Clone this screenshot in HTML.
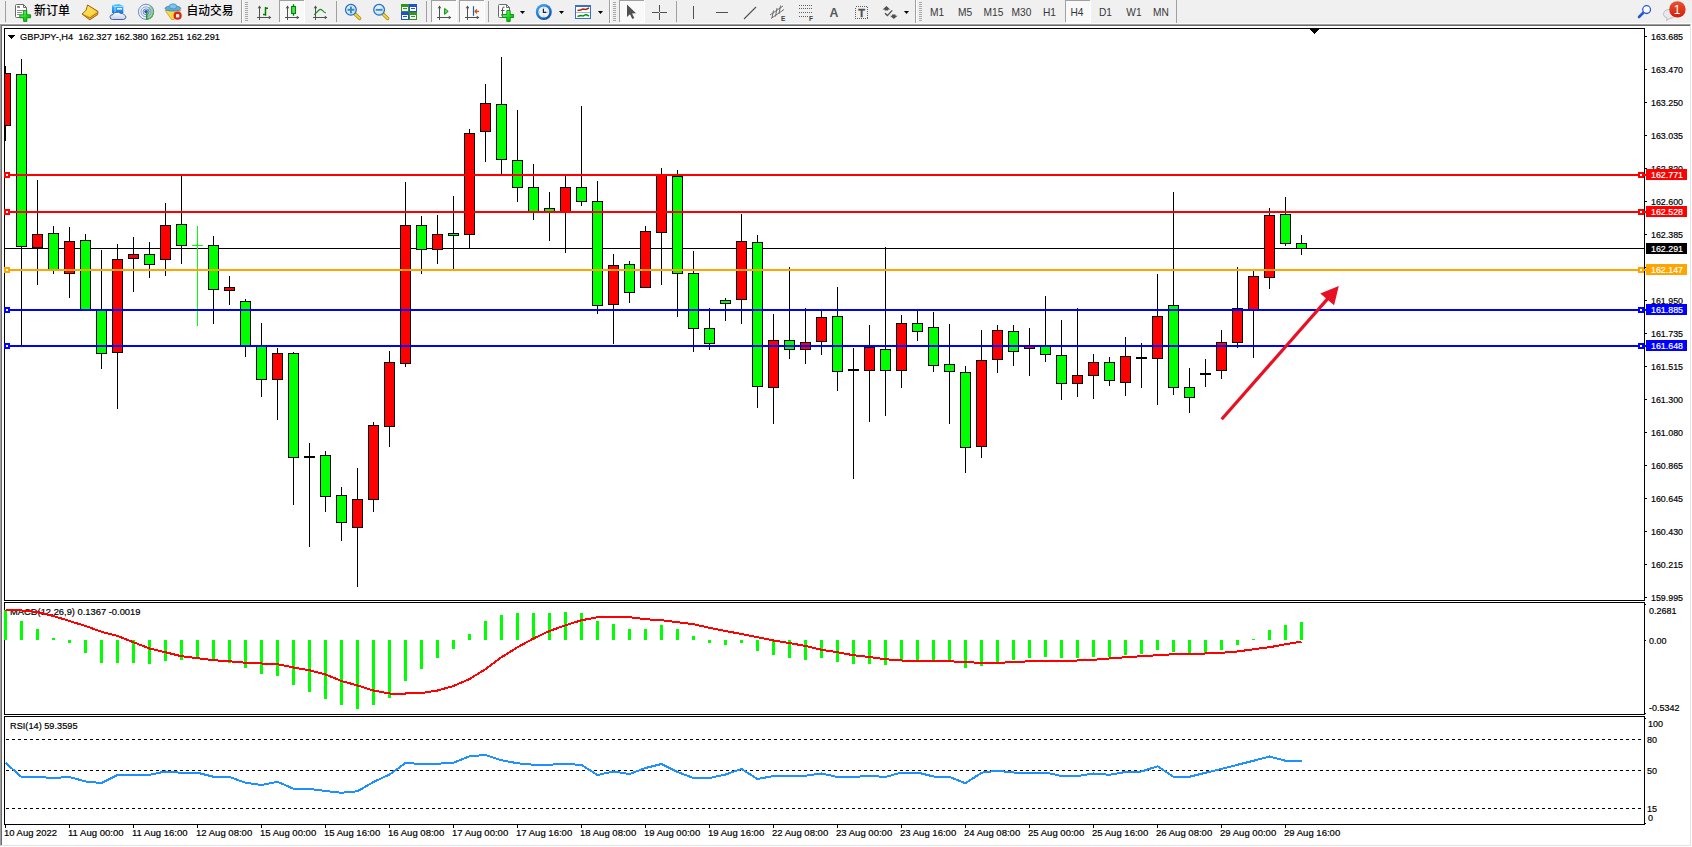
<!DOCTYPE html>
<html><head><meta charset="utf-8"><title>GBPJPY-,H4</title>
<style>
html,body{margin:0;padding:0;}
body{width:1692px;height:847px;overflow:hidden;background:#fff;position:relative;font-family:"Liberation Sans","Noto Sans CJK SC",sans-serif;}
#tb{position:absolute;left:0;top:0;width:1692px;height:24px;background:#f0f0f0;}
#frame{position:absolute;left:0;top:24px;width:1689px;height:820px;border-top:1px solid #a0a0a0;border-left:1px solid #a0a0a0;border-right:1px solid #e3e3e3;border-bottom:1px solid #e3e3e3;box-sizing:content-box;}
#frame2{position:absolute;left:1px;top:25px;width:1688px;height:819px;border-top:1px solid #696969;border-left:1px solid #696969;box-sizing:content-box;}
svg#ch{position:absolute;left:0;top:0;}
.t{position:absolute;white-space:pre;line-height:11px;height:11px;color:#000;transform-origin:0 50%;}
.ax{font-size:9px;-webkit-text-stroke:0.18px currentColor;}
.wh{color:#fff;}
#tb svg{position:absolute;left:0;top:0;}
#tb text{font-family:"Liberation Sans","Noto Sans CJK SC",sans-serif;}

</style></head><body>
<div id="tb"><svg width="1692" height="24" viewBox="0 0 1692 24">
<defs>
<linearGradient id="gp" x1="0" y1="0" x2="1" y2="1"><stop offset="0" stop-color="#9dff9d"/><stop offset="0.5" stop-color="#20e020"/><stop offset="1" stop-color="#00a800"/></linearGradient>
<linearGradient id="gold" x1="0" y1="0" x2="1" y2="1"><stop offset="0" stop-color="#fff080"/><stop offset="1" stop-color="#e0a010"/></linearGradient>
<linearGradient id="blu" x1="0" y1="0" x2="0" y2="1"><stop offset="0" stop-color="#4fc3ff"/><stop offset="1" stop-color="#0a7be8"/></linearGradient>
<linearGradient id="cl" x1="0" y1="0" x2="0" y2="1"><stop offset="0" stop-color="#ffffff"/><stop offset="1" stop-color="#c4d0e6"/></linearGradient>
<linearGradient id="clk" x1="0.2" y1="0" x2="0.8" y2="1"><stop offset="0" stop-color="#3aa8f8"/><stop offset="1" stop-color="#0848a8"/></linearGradient>
<linearGradient id="bdg" x1="0" y1="0" x2="0" y2="1"><stop offset="0" stop-color="#e85434"/><stop offset="1" stop-color="#d41c08"/></linearGradient>
<radialGradient id="lens" cx="0.4" cy="0.4" r="0.7"><stop offset="0" stop-color="#f4fbff"/><stop offset="1" stop-color="#a8d8f8"/></radialGradient>
<g id="axes" fill="none" stroke="#505050" stroke-width="1" shape-rendering="crispEdges">
  <path d="M2.5 1 V15 M0 12.5 H14"/>
</g>
<g id="axar" fill="#505050"><path d="M2.5 0.6 L0.7 3.2 H4.3 Z M14.4 12.5 L11.8 10.7 V14.3 Z"/></g>
<path id="dd" d="M0 0 H5 L2.5 3 Z" fill="#000"/>
<g id="grip" fill="#a8a8a8" shape-rendering="crispEdges">
 <rect x="0" y="2" width="3" height="1"/><rect x="0" y="4" width="3" height="1"/><rect x="0" y="6" width="3" height="1"/><rect x="0" y="8" width="3" height="1"/><rect x="0" y="10" width="3" height="1"/><rect x="0" y="12" width="3" height="1"/><rect x="0" y="14" width="3" height="1"/><rect x="0" y="16" width="3" height="1"/><rect x="0" y="18" width="3" height="1"/><rect x="0" y="20" width="3" height="1"/>
</g>
</defs>
<rect x="0" y="23" width="1692" height="1" fill="#fbfbfb"/>
<!-- leading separator -->
<rect x="5" y="1" width="1" height="21" fill="#a0a0a0" shape-rendering="crispEdges"/>
<!-- new order icon -->
<g>
<path d="M15.5 5.5 Q15.5 4.5 16.5 4.5 H23.5 L26.5 7.5 V16.5 Q26.5 17.5 25.5 17.5 H16.5 Q15.5 17.5 15.5 16.5 Z" fill="#fff" stroke="#6a6a6a" stroke-width="1"/>
<path d="M23.5 4.5 V7.5 H26.5" fill="none" stroke="#6a6a6a" stroke-width="1"/>
<rect x="17" y="6" width="3" height="2" fill="#909090"/><rect x="17" y="10" width="7" height="1" fill="#909090"/><rect x="17" y="12" width="5" height="1" fill="#909090"/><rect x="17" y="14" width="3" height="1" fill="#909090"/>
<path d="M23.6 10.6 H26.8 V14.8 H30.6 V17.8 H26.8 V21.4 H23.6 V17.8 H19.8 V14.8 H23.6 Z" fill="url(#gp)" stroke="#0a8a0a" stroke-width="0.9" stroke-linejoin="round"/>
</g>
<text x="34" y="15" font-size="12" font-weight="500" fill="#000">新订单</text>
<!-- book -->
<path d="M87.6 5 L98 11.4 L97.6 14.6 L89.8 19.8 L82 14 L86 10.4 Z" fill="url(#gold)" stroke="#a06008" stroke-width="1" stroke-linejoin="round"/>
<path d="M87.8 6.4 L96.6 11.8 L89.6 16.6 L83.6 13.2 L86.8 10.6 Z" fill="#ffe24a" opacity="0.75"/>
<path d="M82.6 14.4 L89.8 18 L97.4 12.8" fill="none" stroke="#b07410" stroke-width="0.9"/>
<!-- server/cloud -->
<path d="M112 5 L119 4 L123.3 6 V13 H112 Z" fill="url(#blu)"/>
<path d="M115 6.5 V13 M112.3 5.2 L115 6.5 L123 6.3" stroke="#c8ecff" stroke-width="0.8" fill="none"/>
<rect x="117" y="8" width="5" height="1.6" fill="#e8f6ff"/>
<path d="M112.5 19.5 Q109.8 19.3 110 16.8 Q110.3 14.6 113 14.6 Q113.6 12 116.6 12.4 Q119 11.4 120.6 13.6 Q123.3 12.8 124.3 15 Q126.2 15.6 125.8 17.6 Q125.4 19.5 123.2 19.5 Z" fill="url(#cl)" stroke="#48629e" stroke-width="1"/>
<!-- signal -->
<g fill="none">
<path d="M146 11.8 L146 19.9 A8.1 8.1 0 0 0 150.6 5.1 Z" fill="#8cc88c" opacity="0.8"/>
<circle cx="146" cy="11.8" r="7.6" stroke="#6a8ad6" stroke-width="1"/>
<circle cx="146" cy="11.8" r="5" stroke="#7a98dc" stroke-width="0.9"/>
<circle cx="146" cy="11.8" r="2.9" stroke="#5a7ad0" stroke-width="0.9"/>
<path d="M146.5 19.4 A7.6 7.6 0 0 0 153.4 10" stroke="#58a858" stroke-width="1.1"/>
<circle cx="146" cy="11.6" r="1.7" fill="#2450c4"/>
<path d="M146.7 12.6 V19.6" stroke="#1ea01e" stroke-width="1.4"/>
</g>
<!-- auto trading -->
<g>
<path d="M165.2 10.5 L180.6 10.5 L174 19.5 L171.5 19.5 Z" fill="#f7d84a" stroke="#c89a18" stroke-width="0.8" stroke-linejoin="round"/>
<ellipse cx="172.9" cy="8.4" rx="7.9" ry="2.7" fill="#5aaedc" stroke="#2f80b8" stroke-width="0.7"/>
<ellipse cx="173" cy="6.4" rx="3.8" ry="2.6" fill="#7cc4ea" stroke="#2f80b8" stroke-width="0.6"/>
<circle cx="177.6" cy="15.7" r="4.1" fill="#e02810"/>
<rect x="176" y="14.2" width="3.2" height="3.2" fill="#fff"/>
</g>
<text x="186.5" y="15" font-size="12" font-weight="500" fill="#000" textLength="47" lengthAdjust="spacingAndGlyphs">自动交易</text>
<!-- sep + grip -->
<rect x="241" y="0" width="1" height="23" fill="#a0a0a0" shape-rendering="crispEdges"/><rect x="242" y="0" width="1" height="23" fill="#fff" shape-rendering="crispEdges"/>
<use href="#grip" x="245" y="0"/>

<!-- bar chart icon -->
<g transform="translate(257,5)"><use href="#axes"/><use href="#axar"/><path d="M8.5 2 V10.7 M6 9.5 H8.5 M8.5 3.3 H11" stroke="#008000" stroke-width="1.5" fill="none"/></g>
<!-- candle icon (pressed) -->
<rect x="279" y="0" width="26" height="23" fill="#f9f9f9" shape-rendering="crispEdges"/><rect x="279" y="0" width="1" height="22" fill="#a0a0a0" shape-rendering="crispEdges"/><rect x="279" y="0" width="25" height="1" fill="#a0a0a0" shape-rendering="crispEdges"/><rect x="280" y="22" width="25" height="1" fill="#fff" shape-rendering="crispEdges"/><rect x="304" y="0" width="1" height="23" fill="#fff" shape-rendering="crispEdges"/>
<g transform="translate(285,5)"><use href="#axes"/><use href="#axar"/><path d="M8.5 -0.8 V10.8" stroke="#008000" stroke-width="1.3"/><rect x="6.6" y="1.5" width="3.9" height="7" fill="#50e050" stroke="#008800" stroke-width="1.1"/></g>
<!-- line chart icon -->
<g transform="translate(313,5)"><use href="#axes"/><use href="#axar"/><path d="M1.2 9.8 Q4.5 6.5 6 5 Q7.5 3.8 9 5.2 Q11 7.2 12.8 8" stroke="#1a8a1a" stroke-width="1.2" fill="none"/></g>
<rect x="336" y="1" width="1" height="21" fill="#a0a0a0" shape-rendering="crispEdges"/>
<!-- zoom in -->
<g transform="translate(345,3)"><path d="M9.8 10.8 L14.7 15.4" stroke="#b88a10" stroke-width="3.4" stroke-linecap="round"/><path d="M9.8 10.8 L14.7 15.4" stroke="#f0d840" stroke-width="1.8" stroke-linecap="round"/><circle cx="5.9" cy="6.8" r="5.4" fill="url(#lens)" stroke="#2a6ac0" stroke-width="1.2"/><path d="M2.5 6.8 H9.3 M5.9 3.4 V10.2" stroke="#3a88b8" stroke-width="1.9"/></g>
<!-- zoom out -->
<g transform="translate(373,3)"><path d="M9.8 10.8 L14.7 15.4" stroke="#b88a10" stroke-width="3.4" stroke-linecap="round"/><path d="M9.8 10.8 L14.7 15.4" stroke="#f0d840" stroke-width="1.8" stroke-linecap="round"/><circle cx="6.1" cy="6.8" r="5.4" fill="url(#lens)" stroke="#2a6ac0" stroke-width="1.2"/><path d="M2.7 6.8 H9.5" stroke="#3a88b8" stroke-width="1.9"/></g>
<!-- grid -->
<g transform="translate(401,4)" shape-rendering="crispEdges">
<rect x="0" y="0" width="8" height="8" fill="#2a9a18"/><rect x="8" y="0" width="8" height="8" fill="#2450d0"/><rect x="0" y="8" width="8" height="8" fill="#2450d0"/><rect x="8" y="8" width="8" height="8" fill="#2a9a18"/>
<rect x="1" y="3" width="6" height="4" fill="#fff"/><rect x="9" y="3" width="6" height="4" fill="#fff"/><rect x="1" y="11" width="6" height="4" fill="#fff"/><rect x="9" y="11" width="6" height="4" fill="#fff"/>
<rect x="2" y="4" width="4" height="1" fill="#2a9a18"/><rect x="10" y="4" width="4" height="1" fill="#2450d0"/><rect x="2" y="12" width="4" height="1" fill="#2450d0"/><rect x="10" y="12" width="4" height="1" fill="#2a9a18"/>
</g>
<rect x="426" y="1" width="1" height="21" fill="#a0a0a0" shape-rendering="crispEdges"/>
<!-- autoscroll (pressed) -->
<rect x="431" y="0" width="26" height="23" fill="#f9f9f9" shape-rendering="crispEdges"/><rect x="431" y="0" width="1" height="22" fill="#a0a0a0" shape-rendering="crispEdges"/><rect x="431" y="0" width="25" height="1" fill="#a0a0a0" shape-rendering="crispEdges"/><rect x="432" y="22" width="25" height="1" fill="#fff" shape-rendering="crispEdges"/><rect x="456" y="0" width="1" height="23" fill="#fff" shape-rendering="crispEdges"/>
<g transform="translate(437,5)"><use href="#axes"/><use href="#axar"/><path d="M7.6 3.4 L11.2 6.4 L7.6 9.4 Z" fill="#60dc60" stroke="#109010" stroke-width="1"/></g>
<!-- chart shift (pressed) -->
<rect x="459" y="0" width="26" height="23" fill="#f9f9f9" shape-rendering="crispEdges"/><rect x="459" y="0" width="1" height="22" fill="#a0a0a0" shape-rendering="crispEdges"/><rect x="459" y="0" width="25" height="1" fill="#a0a0a0" shape-rendering="crispEdges"/><rect x="460" y="22" width="25" height="1" fill="#fff" shape-rendering="crispEdges"/><rect x="484" y="0" width="1" height="23" fill="#fff" shape-rendering="crispEdges"/>
<g transform="translate(465,5)"><use href="#axes"/><use href="#axar"/><path d="M8.5 1.2 V10.8" stroke="#1868a8" stroke-width="1.2"/><path d="M9.6 6.4 H14 M9.8 6.4 L12 4.4 M9.8 6.4 L12 8.4" stroke="#d84808" stroke-width="1.2" fill="none"/></g>
<rect x="488" y="1" width="1" height="21" fill="#a0a0a0" shape-rendering="crispEdges"/>
<!-- indicators -->
<g>
<path d="M498.5 5.5 Q498.5 4.5 499.5 4.5 H506.5 L509.5 7.5 V16.5 Q509.5 17.5 508.5 17.5 H499.5 Q498.5 17.5 498.5 16.5 Z" fill="#fff" stroke="#6a6a6a" stroke-width="1"/>
<path d="M506.5 4.5 V7.5 H509.5" fill="none" stroke="#6a6a6a" stroke-width="1"/>
<path d="M504.5 7 Q502.5 6.5 502.5 9 V14 Q502.5 15.5 501 15 M501 10.5 H504.5" stroke="#555" stroke-width="1" fill="none"/>
<path d="M506.8 10.5 H510.2 V14.5 H513.6 V17.5 H510.2 V21.4 H506.8 V17.5 H502.6 V14.5 H506.8 Z" fill="url(#gp)" stroke="#0a8a0a" stroke-width="0.9" stroke-linejoin="round"/>
</g>
<use href="#dd" x="520" y="11"/>
<!-- clock -->
<g><circle cx="543.8" cy="12" r="8" fill="url(#clk)"/><circle cx="543.8" cy="12" r="5.5" fill="#eef2f8"/><path d="M543.8 7.4 V8.4 M543.8 15.6 V16.6 M539.2 12 H540.2 M547.4 12 H548.4" stroke="#8090a8" stroke-width="0.8"/><path d="M543.4 8.8 V12.3 H546.4" stroke="#222" stroke-width="1.2" fill="none"/></g>
<use href="#dd" x="559" y="11"/>
<!-- template -->
<g shape-rendering="crispEdges"><rect x="575.5" y="5.5" width="15" height="13" fill="#fff" stroke="#3a70c8" stroke-width="1"/><rect x="575" y="5" width="16" height="2" fill="#3a70c8"/><rect x="576" y="12" width="14" height="1" fill="#9ab8e8"/></g>
<path d="M577.5 10.5 L580.5 10 L583 9 L586 9.5 L589 8" stroke="#a82a10" stroke-width="1.5" fill="none"/>
<path d="M577.5 16.5 L580.5 15.5 L583 16 L586 14.5 L589 16" stroke="#0a960a" stroke-width="1.5" fill="none"/>
<use href="#dd" x="598" y="11"/>
<rect x="609" y="0" width="1" height="23" fill="#a0a0a0" shape-rendering="crispEdges"/><rect x="610" y="0" width="1" height="23" fill="#fff" shape-rendering="crispEdges"/>
<use href="#grip" x="613" y="0"/>
<!-- cursor (pressed) -->
<rect x="619" y="0" width="26" height="23" fill="#f9f9f9" shape-rendering="crispEdges"/><rect x="619" y="0" width="1" height="22" fill="#a0a0a0" shape-rendering="crispEdges"/><rect x="619" y="0" width="25" height="1" fill="#a0a0a0" shape-rendering="crispEdges"/><rect x="620" y="22" width="25" height="1" fill="#fff" shape-rendering="crispEdges"/><rect x="644" y="0" width="1" height="23" fill="#fff" shape-rendering="crispEdges"/>
<path d="M627 4.5 V17 L630 14.2 L632.3 19 L634.3 18 L632 13.5 L636 13.2 Z" fill="#505050"/>
<!-- crosshair -->
<path d="M659.5 5 V20 M652 12.5 H667" stroke="#505050" stroke-width="1" shape-rendering="crispEdges"/>
<rect x="659" y="12" width="1" height="1" fill="#f0f0f0"/>
<rect x="676" y="1" width="1" height="21" fill="#a0a0a0" shape-rendering="crispEdges"/>
<!-- vline -->
<rect x="693" y="6" width="1" height="13" fill="#505050" shape-rendering="crispEdges"/>
<!-- hline -->
<rect x="716" y="12" width="12" height="1" fill="#505050" shape-rendering="crispEdges"/>
<!-- trendline -->
<path d="M744 19 L756 7" stroke="#505050" stroke-width="1.1"/>
<!-- channel -->
<g stroke="#606060" stroke-width="0.9" fill="none"><path d="M770 15 L783 6 M771 18.5 L784 9.5 M773.5 10.5 L772 18 M777 8 L775.5 16.5 M780.5 5.5 L779 14"/></g>
<text x="781" y="21" font-size="6.5" font-weight="bold" fill="#404040">E</text>
<!-- fibo -->
<g stroke="#606060" stroke-width="1" stroke-dasharray="1 1" shape-rendering="crispEdges"><path d="M799 5.5 H813 M799 8.5 H813 M799 12.5 H813 M799 16.5 H808"/></g>
<text x="809" y="21" font-size="6.5" font-weight="bold" fill="#404040">F</text>
<!-- A -->
<text x="829.6" y="17" font-size="12.3" font-weight="bold" fill="#585858">A</text>
<!-- text label -->
<rect x="855.5" y="6.5" width="12" height="12" fill="none" stroke="#606060" stroke-width="1" stroke-dasharray="1 1" shape-rendering="crispEdges"/>
<text x="858.2" y="16.8" font-size="11" font-weight="bold" fill="#505050" stroke="#505050" stroke-width="0.3">T</text>
<!-- arrows -->
<g fill="#505050"><path d="M886.4 6 L890.2 9.4 H888.2 V10.6 H884.6 V9.4 H882.6 Z"/><path d="M893.8 19.1 L890 15.7 H892 V14.4 H895.6 V15.7 H897.6 Z"/><path d="M885 13.2 L887.4 15.6 L892.2 10.4" fill="none" stroke="#505050" stroke-width="1.4"/></g>
<use href="#dd" x="904" y="11"/>
<rect x="915" y="0" width="1" height="23" fill="#a0a0a0" shape-rendering="crispEdges"/><rect x="916" y="0" width="1" height="23" fill="#fff" shape-rendering="crispEdges"/>
<use href="#grip" x="919" y="0"/>
<!-- periods -->
<rect x="1065" y="0" width="26" height="23" fill="#f9f9f9" shape-rendering="crispEdges"/><rect x="1065" y="0" width="1" height="22" fill="#a0a0a0" shape-rendering="crispEdges"/><rect x="1065" y="0" width="25" height="1" fill="#a0a0a0" shape-rendering="crispEdges"/><rect x="1066" y="22" width="25" height="1" fill="#fff" shape-rendering="crispEdges"/><rect x="1090" y="0" width="1" height="23" fill="#fff" shape-rendering="crispEdges"/>
<g font-size="10.2" fill="#383838" text-anchor="middle">
<text x="937" y="16">M1</text><text x="965" y="16">M5</text><text x="993.5" y="16">M15</text><text x="1021.5" y="16">M30</text><text x="1049.5" y="16">H1</text><text x="1077" y="16">H4</text><text x="1105.5" y="16">D1</text><text x="1134" y="16">W1</text><text x="1161" y="16">MN</text>
</g>
<rect x="1176" y="0" width="1" height="23" fill="#a0a0a0" shape-rendering="crispEdges"/>
<!-- search + chat -->
<g><path d="M1643 13 L1639 17" stroke="#2858d0" stroke-width="2.6" stroke-linecap="round"/><circle cx="1646.6" cy="9.6" r="3.9" fill="#f8faff" stroke="#2858d0" stroke-width="1.3"/></g>
<g><path d="M1663.5 14.5 Q1663.5 9.5 1669.5 9.5 Q1675.5 9.5 1675.5 14 Q1675.5 18 1670 18.2 L1666.6 20.6 L1667 17.8 Q1663.5 17 1663.5 14.5 Z" fill="#e8e8f0" stroke="#b8b8b8" stroke-width="0.9"/>
<circle cx="1677.4" cy="9.4" r="8.2" fill="url(#bdg)"/><text x="1677" y="13.6" font-size="12" fill="#fff" text-anchor="middle">1</text></g>
</svg>
</div>
<div id="frame"></div><div id="frame2"></div>
<div class="t ax" style="left:1650.5px;top:31.5px;transform:scale(0.985,1.085);">163.685</div>
<div class="t ax" style="left:1650.5px;top:64.5px;transform:scale(0.985,1.085);">163.470</div>
<div class="t ax" style="left:1650.5px;top:97.5px;transform:scale(0.985,1.085);">163.250</div>
<div class="t ax" style="left:1650.5px;top:130.5px;transform:scale(0.985,1.085);">163.035</div>
<div class="t ax" style="left:1650.5px;top:163.5px;transform:scale(0.985,1.085);">162.820</div>
<div class="t ax" style="left:1650.5px;top:196.5px;transform:scale(0.985,1.085);">162.600</div>
<div class="t ax" style="left:1650.5px;top:229.5px;transform:scale(0.985,1.085);">162.385</div>
<div class="t ax" style="left:1650.5px;top:295.5px;transform:scale(0.985,1.085);">161.950</div>
<div class="t ax" style="left:1650.5px;top:328.5px;transform:scale(0.985,1.085);">161.735</div>
<div class="t ax" style="left:1650.5px;top:361.5px;transform:scale(0.985,1.085);">161.515</div>
<div class="t ax" style="left:1650.5px;top:394.5px;transform:scale(0.985,1.085);">161.300</div>
<div class="t ax" style="left:1650.5px;top:427.5px;transform:scale(0.985,1.085);">161.080</div>
<div class="t ax" style="left:1650.5px;top:460.5px;transform:scale(0.985,1.085);">160.865</div>
<div class="t ax" style="left:1650.5px;top:493.5px;transform:scale(0.985,1.085);">160.645</div>
<div class="t ax" style="left:1650.5px;top:526.5px;transform:scale(0.985,1.085);">160.430</div>
<div class="t ax" style="left:1650.5px;top:559.5px;transform:scale(0.985,1.085);">160.215</div>
<div class="t ax" style="left:1650.5px;top:592.5px;transform:scale(0.985,1.085);">159.995</div>
<div class="t ax" style="left:9.6px;top:606.8px;transform:scale(1.039,1.085);">MACD(12,26,9) 0.1367 -0.0019</div>
<div class="t ax" style="left:9.6px;top:720.8px;transform:scale(1.022,1.085);">RSI(14) 59.3595</div>
<svg id="ch" width="1692" height="847" viewBox="0 0 1692 847" shape-rendering="crispEdges">
<defs>
<clipPath id="cm"><rect x="5" y="29" width="1639" height="571"/></clipPath>
<clipPath id="cmacd"><rect x="5" y="603" width="1639" height="111"/></clipPath>
<clipPath id="crsi"><rect x="5" y="717" width="1639" height="107"/></clipPath>
</defs>
<rect x="4.5" y="28.5" width="1640" height="572" fill="none" stroke="#000" stroke-width="1"/>
<rect x="4.5" y="602.5" width="1640" height="112" fill="none" stroke="#000" stroke-width="1"/>
<rect x="4.5" y="716.5" width="1640" height="108" fill="none" stroke="#000" stroke-width="1"/>
<rect x="5" y="248" width="1640" height="1" fill="#000"/>
<g clip-path="url(#cm)">
<rect x="5" y="66" width="1" height="75" fill="#000"/>
<rect x="0" y="73" width="11" height="53" fill="#000"/>
<rect x="1" y="74" width="9" height="51" fill="#f00"/>
<rect x="21" y="59" width="1" height="287" fill="#000"/>
<rect x="16" y="74" width="11" height="173" fill="#000"/>
<rect x="17" y="75" width="9" height="171" fill="#0f0"/>
<rect x="37" y="180" width="1" height="105" fill="#000"/>
<rect x="32" y="234" width="11" height="14" fill="#000"/>
<rect x="33" y="235" width="9" height="12" fill="#f00"/>
<rect x="53" y="226" width="1" height="48" fill="#000"/>
<rect x="48" y="233" width="11" height="38" fill="#000"/>
<rect x="49" y="234" width="9" height="36" fill="#0f0"/>
<rect x="69" y="227" width="1" height="71" fill="#000"/>
<rect x="64" y="241" width="11" height="33" fill="#000"/>
<rect x="65" y="242" width="9" height="31" fill="#f00"/>
<rect x="85" y="234" width="1" height="77" fill="#000"/>
<rect x="80" y="240" width="11" height="70" fill="#000"/>
<rect x="81" y="241" width="9" height="68" fill="#0f0"/>
<rect x="101" y="250" width="1" height="119" fill="#000"/>
<rect x="96" y="310" width="11" height="44" fill="#000"/>
<rect x="97" y="311" width="9" height="42" fill="#0f0"/>
<rect x="117" y="244" width="1" height="165" fill="#000"/>
<rect x="112" y="259" width="11" height="94" fill="#000"/>
<rect x="113" y="260" width="9" height="92" fill="#f00"/>
<rect x="133" y="237" width="1" height="55" fill="#000"/>
<rect x="128" y="254" width="11" height="5" fill="#000"/>
<rect x="129" y="255" width="9" height="3" fill="#f00"/>
<rect x="149" y="242" width="1" height="36" fill="#000"/>
<rect x="144" y="254" width="11" height="11" fill="#000"/>
<rect x="145" y="255" width="9" height="9" fill="#0f0"/>
<rect x="165" y="203" width="1" height="73" fill="#000"/>
<rect x="160" y="225" width="11" height="35" fill="#000"/>
<rect x="161" y="226" width="9" height="33" fill="#f00"/>
<rect x="181" y="176" width="1" height="88" fill="#000"/>
<rect x="176" y="224" width="11" height="22" fill="#000"/>
<rect x="177" y="225" width="9" height="20" fill="#0f0"/>
<rect x="213" y="236" width="1" height="88" fill="#000"/>
<rect x="208" y="245" width="11" height="45" fill="#000"/>
<rect x="209" y="246" width="9" height="43" fill="#0f0"/>
<rect x="229" y="276" width="1" height="29" fill="#000"/>
<rect x="224" y="287" width="11" height="4" fill="#000"/>
<rect x="225" y="288" width="9" height="2" fill="#f00"/>
<rect x="245" y="299" width="1" height="58" fill="#000"/>
<rect x="240" y="301" width="11" height="45" fill="#000"/>
<rect x="241" y="302" width="9" height="43" fill="#0f0"/>
<rect x="261" y="323" width="1" height="74" fill="#000"/>
<rect x="256" y="346" width="11" height="34" fill="#000"/>
<rect x="257" y="347" width="9" height="32" fill="#0f0"/>
<rect x="277" y="348" width="1" height="72" fill="#000"/>
<rect x="272" y="353" width="11" height="27" fill="#000"/>
<rect x="273" y="354" width="9" height="25" fill="#f00"/>
<rect x="293" y="352" width="1" height="153" fill="#000"/>
<rect x="288" y="353" width="11" height="105" fill="#000"/>
<rect x="289" y="354" width="9" height="103" fill="#0f0"/>
<rect x="309" y="443" width="1" height="104" fill="#000"/>
<rect x="304" y="456" width="11" height="2" fill="#000"/>
<rect x="325" y="451" width="1" height="61" fill="#000"/>
<rect x="320" y="455" width="11" height="42" fill="#000"/>
<rect x="321" y="456" width="9" height="40" fill="#0f0"/>
<rect x="341" y="487" width="1" height="54" fill="#000"/>
<rect x="336" y="495" width="11" height="28" fill="#000"/>
<rect x="337" y="496" width="9" height="26" fill="#0f0"/>
<rect x="357" y="468" width="1" height="119" fill="#000"/>
<rect x="352" y="499" width="11" height="29" fill="#000"/>
<rect x="353" y="500" width="9" height="27" fill="#f00"/>
<rect x="373" y="422" width="1" height="90" fill="#000"/>
<rect x="368" y="425" width="11" height="75" fill="#000"/>
<rect x="369" y="426" width="9" height="73" fill="#f00"/>
<rect x="389" y="351" width="1" height="96" fill="#000"/>
<rect x="384" y="362" width="11" height="65" fill="#000"/>
<rect x="385" y="363" width="9" height="63" fill="#f00"/>
<rect x="405" y="182" width="1" height="185" fill="#000"/>
<rect x="400" y="225" width="11" height="139" fill="#000"/>
<rect x="401" y="226" width="9" height="137" fill="#f00"/>
<rect x="421" y="216" width="1" height="58" fill="#000"/>
<rect x="416" y="225" width="11" height="25" fill="#000"/>
<rect x="417" y="226" width="9" height="23" fill="#0f0"/>
<rect x="437" y="215" width="1" height="49" fill="#000"/>
<rect x="432" y="234" width="11" height="16" fill="#000"/>
<rect x="433" y="235" width="9" height="14" fill="#f00"/>
<rect x="453" y="196" width="1" height="73" fill="#000"/>
<rect x="448" y="233" width="11" height="3" fill="#000"/>
<rect x="449" y="234" width="9" height="1" fill="#0f0"/>
<rect x="469" y="129" width="1" height="119" fill="#000"/>
<rect x="464" y="133" width="11" height="102" fill="#000"/>
<rect x="465" y="134" width="9" height="100" fill="#f00"/>
<rect x="485" y="84" width="1" height="78" fill="#000"/>
<rect x="480" y="103" width="11" height="29" fill="#000"/>
<rect x="481" y="104" width="9" height="27" fill="#f00"/>
<rect x="501" y="57" width="1" height="118" fill="#000"/>
<rect x="496" y="104" width="11" height="56" fill="#000"/>
<rect x="497" y="105" width="9" height="54" fill="#0f0"/>
<rect x="517" y="110" width="1" height="92" fill="#000"/>
<rect x="512" y="160" width="11" height="28" fill="#000"/>
<rect x="513" y="161" width="9" height="26" fill="#0f0"/>
<rect x="533" y="164" width="1" height="56" fill="#000"/>
<rect x="528" y="187" width="11" height="25" fill="#000"/>
<rect x="529" y="188" width="9" height="23" fill="#0f0"/>
<rect x="549" y="192" width="1" height="49" fill="#000"/>
<rect x="544" y="208" width="11" height="4" fill="#000"/>
<rect x="545" y="209" width="9" height="2" fill="#0f0"/>
<rect x="565" y="176" width="1" height="77" fill="#000"/>
<rect x="560" y="187" width="11" height="25" fill="#000"/>
<rect x="561" y="188" width="9" height="23" fill="#f00"/>
<rect x="581" y="106" width="1" height="100" fill="#000"/>
<rect x="576" y="187" width="11" height="15" fill="#000"/>
<rect x="577" y="188" width="9" height="13" fill="#0f0"/>
<rect x="597" y="181" width="1" height="133" fill="#000"/>
<rect x="592" y="201" width="11" height="105" fill="#000"/>
<rect x="593" y="202" width="9" height="103" fill="#0f0"/>
<rect x="613" y="254" width="1" height="90" fill="#000"/>
<rect x="608" y="265" width="11" height="40" fill="#000"/>
<rect x="609" y="266" width="9" height="38" fill="#f00"/>
<rect x="629" y="261" width="1" height="42" fill="#000"/>
<rect x="624" y="264" width="11" height="29" fill="#000"/>
<rect x="625" y="265" width="9" height="27" fill="#0f0"/>
<rect x="645" y="226" width="1" height="62" fill="#000"/>
<rect x="640" y="231" width="11" height="57" fill="#000"/>
<rect x="641" y="232" width="9" height="55" fill="#f00"/>
<rect x="661" y="168" width="1" height="117" fill="#000"/>
<rect x="656" y="175" width="11" height="58" fill="#000"/>
<rect x="657" y="176" width="9" height="56" fill="#f00"/>
<rect x="677" y="170" width="1" height="147" fill="#000"/>
<rect x="672" y="176" width="11" height="98" fill="#000"/>
<rect x="673" y="177" width="9" height="96" fill="#0f0"/>
<rect x="693" y="251" width="1" height="101" fill="#000"/>
<rect x="688" y="273" width="11" height="56" fill="#000"/>
<rect x="689" y="274" width="9" height="54" fill="#0f0"/>
<rect x="709" y="308" width="1" height="42" fill="#000"/>
<rect x="704" y="328" width="11" height="16" fill="#000"/>
<rect x="705" y="329" width="9" height="14" fill="#0f0"/>
<rect x="725" y="298" width="1" height="23" fill="#000"/>
<rect x="720" y="300" width="11" height="4" fill="#000"/>
<rect x="721" y="301" width="9" height="2" fill="#0f0"/>
<rect x="741" y="214" width="1" height="110" fill="#000"/>
<rect x="736" y="241" width="11" height="59" fill="#000"/>
<rect x="737" y="242" width="9" height="57" fill="#f00"/>
<rect x="757" y="235" width="1" height="173" fill="#000"/>
<rect x="752" y="242" width="11" height="145" fill="#000"/>
<rect x="753" y="243" width="9" height="143" fill="#0f0"/>
<rect x="773" y="314" width="1" height="110" fill="#000"/>
<rect x="768" y="340" width="11" height="48" fill="#000"/>
<rect x="769" y="341" width="9" height="46" fill="#f00"/>
<rect x="789" y="267" width="1" height="92" fill="#000"/>
<rect x="784" y="340" width="11" height="10" fill="#000"/>
<rect x="785" y="341" width="9" height="8" fill="#0f0"/>
<rect x="805" y="308" width="1" height="56" fill="#000"/>
<rect x="800" y="342" width="11" height="8" fill="#000"/>
<rect x="801" y="343" width="9" height="6" fill="#f00"/>
<rect x="821" y="311" width="1" height="44" fill="#000"/>
<rect x="816" y="317" width="11" height="25" fill="#000"/>
<rect x="817" y="318" width="9" height="23" fill="#f00"/>
<rect x="837" y="287" width="1" height="104" fill="#000"/>
<rect x="832" y="316" width="11" height="56" fill="#000"/>
<rect x="833" y="317" width="9" height="54" fill="#0f0"/>
<rect x="853" y="348" width="1" height="131" fill="#000"/>
<rect x="848" y="369" width="11" height="2" fill="#000"/>
<rect x="869" y="325" width="1" height="97" fill="#000"/>
<rect x="864" y="347" width="11" height="24" fill="#000"/>
<rect x="865" y="348" width="9" height="22" fill="#f00"/>
<rect x="885" y="247" width="1" height="169" fill="#000"/>
<rect x="880" y="349" width="11" height="22" fill="#000"/>
<rect x="881" y="350" width="9" height="20" fill="#0f0"/>
<rect x="901" y="315" width="1" height="73" fill="#000"/>
<rect x="896" y="323" width="11" height="48" fill="#000"/>
<rect x="897" y="324" width="9" height="46" fill="#f00"/>
<rect x="917" y="310" width="1" height="31" fill="#000"/>
<rect x="912" y="323" width="11" height="9" fill="#000"/>
<rect x="913" y="324" width="9" height="7" fill="#0f0"/>
<rect x="933" y="312" width="1" height="60" fill="#000"/>
<rect x="928" y="327" width="11" height="39" fill="#000"/>
<rect x="929" y="328" width="9" height="37" fill="#0f0"/>
<rect x="949" y="324" width="1" height="100" fill="#000"/>
<rect x="944" y="364" width="11" height="8" fill="#000"/>
<rect x="945" y="365" width="9" height="6" fill="#0f0"/>
<rect x="965" y="366" width="1" height="107" fill="#000"/>
<rect x="960" y="372" width="11" height="76" fill="#000"/>
<rect x="961" y="373" width="9" height="74" fill="#0f0"/>
<rect x="981" y="330" width="1" height="128" fill="#000"/>
<rect x="976" y="360" width="11" height="87" fill="#000"/>
<rect x="977" y="361" width="9" height="85" fill="#f00"/>
<rect x="997" y="325" width="1" height="48" fill="#000"/>
<rect x="992" y="330" width="11" height="30" fill="#000"/>
<rect x="993" y="331" width="9" height="28" fill="#f00"/>
<rect x="1013" y="325" width="1" height="41" fill="#000"/>
<rect x="1008" y="331" width="11" height="21" fill="#000"/>
<rect x="1009" y="332" width="9" height="19" fill="#0f0"/>
<rect x="1029" y="328" width="1" height="48" fill="#000"/>
<rect x="1024" y="345" width="11" height="4" fill="#000"/>
<rect x="1025" y="346" width="9" height="2" fill="#f00"/>
<rect x="1045" y="296" width="1" height="66" fill="#000"/>
<rect x="1040" y="346" width="11" height="9" fill="#000"/>
<rect x="1041" y="347" width="9" height="7" fill="#0f0"/>
<rect x="1061" y="320" width="1" height="80" fill="#000"/>
<rect x="1056" y="355" width="11" height="29" fill="#000"/>
<rect x="1057" y="356" width="9" height="27" fill="#0f0"/>
<rect x="1077" y="308" width="1" height="89" fill="#000"/>
<rect x="1072" y="375" width="11" height="9" fill="#000"/>
<rect x="1073" y="376" width="9" height="7" fill="#f00"/>
<rect x="1093" y="354" width="1" height="45" fill="#000"/>
<rect x="1088" y="362" width="11" height="14" fill="#000"/>
<rect x="1089" y="363" width="9" height="12" fill="#f00"/>
<rect x="1109" y="357" width="1" height="29" fill="#000"/>
<rect x="1104" y="362" width="11" height="19" fill="#000"/>
<rect x="1105" y="363" width="9" height="17" fill="#0f0"/>
<rect x="1125" y="337" width="1" height="59" fill="#000"/>
<rect x="1120" y="356" width="11" height="27" fill="#000"/>
<rect x="1121" y="357" width="9" height="25" fill="#f00"/>
<rect x="1141" y="343" width="1" height="45" fill="#000"/>
<rect x="1136" y="357" width="11" height="2" fill="#000"/>
<rect x="1157" y="274" width="1" height="131" fill="#000"/>
<rect x="1152" y="316" width="11" height="43" fill="#000"/>
<rect x="1153" y="317" width="9" height="41" fill="#f00"/>
<rect x="1173" y="192" width="1" height="203" fill="#000"/>
<rect x="1168" y="305" width="11" height="83" fill="#000"/>
<rect x="1169" y="306" width="9" height="81" fill="#0f0"/>
<rect x="1189" y="368" width="1" height="45" fill="#000"/>
<rect x="1184" y="387" width="11" height="11" fill="#000"/>
<rect x="1185" y="388" width="9" height="9" fill="#0f0"/>
<rect x="1205" y="359" width="1" height="28" fill="#000"/>
<rect x="1200" y="373" width="11" height="2" fill="#000"/>
<rect x="1221" y="330" width="1" height="49" fill="#000"/>
<rect x="1216" y="342" width="11" height="29" fill="#000"/>
<rect x="1217" y="343" width="9" height="27" fill="#f00"/>
<rect x="1237" y="267" width="1" height="81" fill="#000"/>
<rect x="1232" y="308" width="11" height="35" fill="#000"/>
<rect x="1233" y="309" width="9" height="33" fill="#f00"/>
<rect x="1253" y="271" width="1" height="87" fill="#000"/>
<rect x="1248" y="276" width="11" height="34" fill="#000"/>
<rect x="1249" y="277" width="9" height="32" fill="#f00"/>
<rect x="1269" y="208" width="1" height="81" fill="#000"/>
<rect x="1264" y="215" width="11" height="63" fill="#000"/>
<rect x="1265" y="216" width="9" height="61" fill="#f00"/>
<rect x="1285" y="197" width="1" height="49" fill="#000"/>
<rect x="1280" y="214" width="11" height="30" fill="#000"/>
<rect x="1281" y="215" width="9" height="28" fill="#0f0"/>
<rect x="1301" y="235" width="1" height="20" fill="#000"/>
<rect x="1296" y="243" width="11" height="6" fill="#000"/>
<rect x="1297" y="244" width="9" height="4" fill="#0f0"/>
<rect x="197" y="226" width="1" height="100" fill="#0f0"/>
<rect x="192" y="245" width="11" height="1" fill="#0f0"/>
</g>
<rect x="4" y="174" width="1642" height="2" fill="#f00"/>
<rect x="4" y="172" width="6" height="6" fill="#f00"/>
<rect x="6" y="174" width="2" height="2" fill="#fff"/>
<rect x="1638" y="172" width="6" height="6" fill="#f00"/>
<rect x="1640" y="174" width="2" height="2" fill="#fff"/>
<rect x="4" y="211" width="1642" height="2" fill="#f00"/>
<rect x="4" y="209" width="6" height="6" fill="#f00"/>
<rect x="6" y="211" width="2" height="2" fill="#fff"/>
<rect x="1638" y="209" width="6" height="6" fill="#f00"/>
<rect x="1640" y="211" width="2" height="2" fill="#fff"/>
<rect x="4" y="269" width="1642" height="2" fill="#ffa500"/>
<rect x="4" y="267" width="6" height="6" fill="#ffa500"/>
<rect x="6" y="269" width="2" height="2" fill="#fff"/>
<rect x="1638" y="267" width="6" height="6" fill="#ffa500"/>
<rect x="1640" y="269" width="2" height="2" fill="#fff"/>
<rect x="4" y="309" width="1642" height="2" fill="#00f"/>
<rect x="4" y="307" width="6" height="6" fill="#00f"/>
<rect x="6" y="309" width="2" height="2" fill="#fff"/>
<rect x="1638" y="307" width="6" height="6" fill="#00f"/>
<rect x="1640" y="309" width="2" height="2" fill="#fff"/>
<rect x="4" y="345" width="1642" height="2" fill="#00f"/>
<rect x="4" y="343" width="6" height="6" fill="#00f"/>
<rect x="6" y="345" width="2" height="2" fill="#fff"/>
<rect x="1638" y="343" width="6" height="6" fill="#00f"/>
<rect x="1640" y="345" width="2" height="2" fill="#fff"/>
<g shape-rendering="geometricPrecision"><line x1="1221.7" y1="419.2" x2="1328" y2="298.4" stroke="#e81123" stroke-width="3.2"/><polygon points="1338.8,286.1 1320.3,293.6 1334.1,305.2" fill="#e81123"/></g>
<rect x="8" y="35" width="7" height="1" fill="#000"/>
<rect x="9" y="36" width="5" height="1" fill="#000"/>
<rect x="10" y="37" width="3" height="1" fill="#000"/>
<rect x="11" y="38" width="1" height="1" fill="#000"/>
<rect x="1310" y="29" width="9" height="1" fill="#000"/>
<rect x="1311" y="30" width="7" height="1" fill="#000"/>
<rect x="1312" y="31" width="5" height="1" fill="#000"/>
<rect x="1313" y="32" width="3" height="1" fill="#000"/>
<rect x="1314" y="33" width="1" height="1" fill="#000"/>
<rect x="1645" y="36" width="2" height="1" fill="#000"/>
<rect x="1645" y="69" width="2" height="1" fill="#000"/>
<rect x="1645" y="102" width="2" height="1" fill="#000"/>
<rect x="1645" y="135" width="2" height="1" fill="#000"/>
<rect x="1645" y="168" width="2" height="1" fill="#000"/>
<rect x="1645" y="201" width="2" height="1" fill="#000"/>
<rect x="1645" y="234" width="2" height="1" fill="#000"/>
<rect x="1645" y="267" width="2" height="1" fill="#000"/>
<rect x="1645" y="300" width="2" height="1" fill="#000"/>
<rect x="1645" y="333" width="2" height="1" fill="#000"/>
<rect x="1645" y="366" width="2" height="1" fill="#000"/>
<rect x="1645" y="399" width="2" height="1" fill="#000"/>
<rect x="1645" y="432" width="2" height="1" fill="#000"/>
<rect x="1645" y="465" width="2" height="1" fill="#000"/>
<rect x="1645" y="498" width="2" height="1" fill="#000"/>
<rect x="1645" y="531" width="2" height="1" fill="#000"/>
<rect x="1645" y="564" width="2" height="1" fill="#000"/>
<rect x="1645" y="597" width="2" height="1" fill="#000"/>
<rect x="1645" y="604" width="1" height="1" fill="#000"/>
<rect x="1645" y="640" width="1" height="1" fill="#000"/>
<rect x="1645" y="713" width="1" height="1" fill="#000"/>
<rect x="1645" y="718" width="1" height="1" fill="#000"/>
<rect x="1645" y="823" width="1" height="1" fill="#000"/>
<rect x="4" y="610" width="3" height="30" fill="#0f0"/>
<rect x="20" y="621" width="3" height="19" fill="#0f0"/>
<rect x="36" y="629" width="3" height="11" fill="#0f0"/>
<rect x="52" y="638" width="3" height="2" fill="#0f0"/>
<rect x="68" y="640" width="3" height="3" fill="#0f0"/>
<rect x="84" y="640" width="3" height="13" fill="#0f0"/>
<rect x="100" y="640" width="3" height="23" fill="#0f0"/>
<rect x="116" y="640" width="3" height="23" fill="#0f0"/>
<rect x="132" y="640" width="3" height="23" fill="#0f0"/>
<rect x="148" y="640" width="3" height="24" fill="#0f0"/>
<rect x="164" y="640" width="3" height="21" fill="#0f0"/>
<rect x="180" y="640" width="3" height="20" fill="#0f0"/>
<rect x="196" y="640" width="3" height="18" fill="#0f0"/>
<rect x="212" y="640" width="3" height="20" fill="#0f0"/>
<rect x="228" y="640" width="3" height="23" fill="#0f0"/>
<rect x="244" y="640" width="3" height="28" fill="#0f0"/>
<rect x="260" y="640" width="3" height="34" fill="#0f0"/>
<rect x="276" y="640" width="3" height="36" fill="#0f0"/>
<rect x="292" y="640" width="3" height="45" fill="#0f0"/>
<rect x="308" y="640" width="3" height="52" fill="#0f0"/>
<rect x="324" y="640" width="3" height="59" fill="#0f0"/>
<rect x="340" y="640" width="3" height="65" fill="#0f0"/>
<rect x="356" y="640" width="3" height="69" fill="#0f0"/>
<rect x="372" y="640" width="3" height="65" fill="#0f0"/>
<rect x="388" y="640" width="3" height="58" fill="#0f0"/>
<rect x="404" y="640" width="3" height="41" fill="#0f0"/>
<rect x="420" y="640" width="3" height="29" fill="#0f0"/>
<rect x="436" y="640" width="3" height="18" fill="#0f0"/>
<rect x="452" y="640" width="3" height="9" fill="#0f0"/>
<rect x="468" y="634" width="3" height="6" fill="#0f0"/>
<rect x="484" y="621" width="3" height="19" fill="#0f0"/>
<rect x="500" y="615" width="3" height="25" fill="#0f0"/>
<rect x="516" y="613" width="3" height="27" fill="#0f0"/>
<rect x="532" y="613" width="3" height="27" fill="#0f0"/>
<rect x="548" y="613" width="3" height="27" fill="#0f0"/>
<rect x="564" y="612" width="3" height="28" fill="#0f0"/>
<rect x="580" y="613" width="3" height="27" fill="#0f0"/>
<rect x="596" y="621" width="3" height="19" fill="#0f0"/>
<rect x="612" y="624" width="3" height="16" fill="#0f0"/>
<rect x="628" y="629" width="3" height="11" fill="#0f0"/>
<rect x="644" y="629" width="3" height="11" fill="#0f0"/>
<rect x="660" y="625" width="3" height="15" fill="#0f0"/>
<rect x="676" y="629" width="3" height="11" fill="#0f0"/>
<rect x="692" y="636" width="3" height="4" fill="#0f0"/>
<rect x="708" y="640" width="3" height="3" fill="#0f0"/>
<rect x="724" y="640" width="3" height="5" fill="#0f0"/>
<rect x="740" y="640" width="3" height="3" fill="#0f0"/>
<rect x="756" y="640" width="3" height="11" fill="#0f0"/>
<rect x="772" y="640" width="3" height="15" fill="#0f0"/>
<rect x="788" y="640" width="3" height="18" fill="#0f0"/>
<rect x="804" y="640" width="3" height="20" fill="#0f0"/>
<rect x="820" y="640" width="3" height="18" fill="#0f0"/>
<rect x="836" y="640" width="3" height="22" fill="#0f0"/>
<rect x="852" y="640" width="3" height="24" fill="#0f0"/>
<rect x="868" y="640" width="3" height="24" fill="#0f0"/>
<rect x="884" y="640" width="3" height="25" fill="#0f0"/>
<rect x="900" y="640" width="3" height="21" fill="#0f0"/>
<rect x="916" y="640" width="3" height="20" fill="#0f0"/>
<rect x="932" y="640" width="3" height="20" fill="#0f0"/>
<rect x="948" y="640" width="3" height="21" fill="#0f0"/>
<rect x="964" y="640" width="3" height="28" fill="#0f0"/>
<rect x="980" y="640" width="3" height="26" fill="#0f0"/>
<rect x="996" y="640" width="3" height="22" fill="#0f0"/>
<rect x="1012" y="640" width="3" height="20" fill="#0f0"/>
<rect x="1028" y="640" width="3" height="18" fill="#0f0"/>
<rect x="1044" y="640" width="3" height="17" fill="#0f0"/>
<rect x="1060" y="640" width="3" height="18" fill="#0f0"/>
<rect x="1076" y="640" width="3" height="18" fill="#0f0"/>
<rect x="1092" y="640" width="3" height="17" fill="#0f0"/>
<rect x="1108" y="640" width="3" height="17" fill="#0f0"/>
<rect x="1124" y="640" width="3" height="15" fill="#0f0"/>
<rect x="1140" y="640" width="3" height="14" fill="#0f0"/>
<rect x="1156" y="640" width="3" height="10" fill="#0f0"/>
<rect x="1172" y="640" width="3" height="12" fill="#0f0"/>
<rect x="1188" y="640" width="3" height="13" fill="#0f0"/>
<rect x="1204" y="640" width="3" height="13" fill="#0f0"/>
<rect x="1220" y="640" width="3" height="10" fill="#0f0"/>
<rect x="1236" y="640" width="3" height="5" fill="#0f0"/>
<rect x="1252" y="639" width="3" height="1" fill="#0f0"/>
<rect x="1268" y="630" width="3" height="10" fill="#0f0"/>
<rect x="1284" y="625" width="3" height="15" fill="#0f0"/>
<rect x="1300" y="622" width="3" height="18" fill="#0f0"/>
<polyline points="5.5,610 21.5,610.5 37.5,612 53.5,616 69.5,621 85.5,626 101.5,631.75 117.5,636 133.5,642.25 149.5,648.5 165.5,652.25 181.5,656.25 197.5,658.25 213.5,660.25 229.5,661.25 245.5,662.75 261.5,663.5 277.5,664.25 293.5,667.5 309.5,670.25 325.5,674.5 341.5,681 357.5,685.5 373.5,690.5 389.5,693.5 405.5,693.5 421.5,693 437.5,690.5 453.5,686 469.5,679 485.5,669.25 501.5,657.25 517.5,647.25 533.5,638.5 549.5,631 565.5,625.25 581.5,620.25 597.5,617.25 613.5,617 629.5,617.25 645.5,619.25 661.5,620.25 677.5,622.25 693.5,624.25 709.5,627.75 725.5,631 741.5,634 757.5,637.25 773.5,640.5 789.5,643 805.5,646 821.5,649.75 837.5,652.25 853.5,655.25 869.5,657 885.5,659.25 901.5,660.5 917.5,660.75 933.5,660.75 949.5,661.25 965.5,662.25 981.5,662.75 997.5,662.75 1013.5,662.25 1029.5,661.25 1045.5,660.75 1061.5,660.75 1077.5,660.5 1093.5,659.75 1109.5,658.5 1125.5,657.25 1141.5,656.25 1157.5,655.25 1173.5,654.25 1189.5,653.75 1205.5,653.5 1221.5,652.75 1237.5,651.5 1253.5,649.25 1269.5,647.25 1285.5,644.25 1301.5,641.5" fill="none" stroke="#f00" stroke-width="2" stroke-linejoin="round" shape-rendering="crispEdges" clip-path="url(#cmacd)"/>
<line x1="6" y1="739.5" x2="1644" y2="739.5" stroke="#000" stroke-width="1" stroke-dasharray="3 3"/>
<line x1="6" y1="770.5" x2="1644" y2="770.5" stroke="#000" stroke-width="1" stroke-dasharray="3 3"/>
<line x1="6" y1="808.5" x2="1644" y2="808.5" stroke="#000" stroke-width="1" stroke-dasharray="3 3"/>
<polyline points="5.5,762.75 21.5,777 37.5,777 53.5,778 69.5,777 85.5,781.5 101.5,783 117.5,775 133.5,775 149.5,774.75 165.5,771.5 181.5,772.75 197.5,772.75 213.5,776.75 229.5,777 245.5,782.75 261.5,785 277.5,781.75 293.5,788.75 309.5,789 325.5,791 341.5,792.75 357.5,791.25 373.5,782 389.5,774.5 405.5,763 421.5,764 437.5,763.75 453.5,762.75 469.5,756.25 485.5,755 501.5,760.25 517.5,763.25 533.5,764.75 549.5,764.75 565.5,763.75 581.5,765 597.5,775 613.5,771.5 629.5,774 645.5,768 661.5,764 677.5,772 693.5,778 709.5,778 725.5,774.5 741.5,769 757.5,779 773.5,776 789.5,776 805.5,775.75 821.5,773.5 837.5,777 853.5,777 869.5,775.75 885.5,777 901.5,772.5 917.5,772.5 933.5,776.5 949.5,777 965.5,783.25 981.5,772.75 997.5,770.75 1013.5,772.5 1029.5,772.5 1045.5,772.5 1061.5,776 1077.5,776 1093.5,773.5 1109.5,774.75 1125.5,772 1141.5,771.5 1157.5,766.25 1173.5,776.75 1189.5,776.75 1205.5,772.75 1221.5,769 1237.5,764.75 1253.5,760.75 1269.5,756.5 1285.5,760.75 1301.5,760.75" fill="none" stroke="#1e90ff" stroke-width="2" stroke-linejoin="round" shape-rendering="crispEdges" clip-path="url(#crsi)"/>
<rect x="5" y="825" width="1" height="3" fill="#000"/>
<rect x="69" y="825" width="1" height="3" fill="#000"/>
<rect x="133" y="825" width="1" height="3" fill="#000"/>
<rect x="197" y="825" width="1" height="3" fill="#000"/>
<rect x="261" y="825" width="1" height="3" fill="#000"/>
<rect x="325" y="825" width="1" height="3" fill="#000"/>
<rect x="389" y="825" width="1" height="3" fill="#000"/>
<rect x="453" y="825" width="1" height="3" fill="#000"/>
<rect x="517" y="825" width="1" height="3" fill="#000"/>
<rect x="581" y="825" width="1" height="3" fill="#000"/>
<rect x="645" y="825" width="1" height="3" fill="#000"/>
<rect x="709" y="825" width="1" height="3" fill="#000"/>
<rect x="773" y="825" width="1" height="3" fill="#000"/>
<rect x="837" y="825" width="1" height="3" fill="#000"/>
<rect x="901" y="825" width="1" height="3" fill="#000"/>
<rect x="965" y="825" width="1" height="3" fill="#000"/>
<rect x="1029" y="825" width="1" height="3" fill="#000"/>
<rect x="1093" y="825" width="1" height="3" fill="#000"/>
<rect x="1157" y="825" width="1" height="3" fill="#000"/>
<rect x="1221" y="825" width="1" height="3" fill="#000"/>
<rect x="1285" y="825" width="1" height="3" fill="#000"/>
<rect x="1646" y="169" width="41" height="11" fill="#f00"/>
<rect x="1646" y="206" width="41" height="11" fill="#f00"/>
<rect x="1646" y="243" width="41" height="11" fill="#000"/>
<rect x="1646" y="264" width="41" height="11" fill="#ffa500"/>
<rect x="1646" y="304" width="41" height="11" fill="#00f"/>
<rect x="1646" y="340" width="41" height="11" fill="#00f"/>
</svg>
<div class="t ax wh" style="left:1650.5px;top:169.5px;transform:scale(0.985,1.085);">162.771</div>
<div class="t ax wh" style="left:1650.5px;top:206.5px;transform:scale(0.985,1.085);">162.528</div>
<div class="t ax wh" style="left:1650.5px;top:243.5px;transform:scale(0.985,1.085);">162.291</div>
<div class="t ax wh" style="left:1650.5px;top:264.5px;transform:scale(0.985,1.085);">162.147</div>
<div class="t ax wh" style="left:1650.5px;top:304.5px;transform:scale(0.985,1.085);">161.885</div>
<div class="t ax wh" style="left:1650.5px;top:340.5px;transform:scale(0.985,1.085);">161.648</div>
<div class="t ax" style="left:1649px;top:605.6px;transform:scale(1.0,1.085);">0.2681</div>
<div class="t ax" style="left:1649px;top:635.6px;transform:scale(1.0,1.085);">0.00</div>
<div class="t ax" style="left:1649px;top:702.6px;transform:scale(1.0,1.085);">-0.5342</div>
<div class="t ax" style="left:1648px;top:718.6px;transform:scale(1.0,1.085);">100</div>
<div class="t ax" style="left:1647px;top:734.6px;transform:scale(1.0,1.085);">80</div>
<div class="t ax" style="left:1647px;top:765.6px;transform:scale(1.0,1.085);">50</div>
<div class="t ax" style="left:1647px;top:803.6px;transform:scale(1.0,1.085);">15</div>
<div class="t ax" style="left:1648px;top:812.6px;transform:scale(1.0,1.085);">0</div>
<div class="t ax" style="left:20px;top:31.5px;transform:scale(1.029,1.085);">GBPJPY-,H4&nbsp; 162.327 162.380 162.251 162.291</div>
<div class="t ax" style="left:4px;top:828.2px;transform:scale(1.05,1.085);">10 Aug 2022</div>
<div class="t ax" style="left:68px;top:828.2px;transform:scale(1.06,1.085);">11 Aug 00:00</div>
<div class="t ax" style="left:132px;top:828.2px;transform:scale(1.06,1.085);">11 Aug 16:00</div>
<div class="t ax" style="left:196px;top:828.2px;transform:scale(1.06,1.085);">12 Aug 08:00</div>
<div class="t ax" style="left:260px;top:828.2px;transform:scale(1.06,1.085);">15 Aug 00:00</div>
<div class="t ax" style="left:324px;top:828.2px;transform:scale(1.06,1.085);">15 Aug 16:00</div>
<div class="t ax" style="left:388px;top:828.2px;transform:scale(1.06,1.085);">16 Aug 08:00</div>
<div class="t ax" style="left:452px;top:828.2px;transform:scale(1.06,1.085);">17 Aug 00:00</div>
<div class="t ax" style="left:516px;top:828.2px;transform:scale(1.06,1.085);">17 Aug 16:00</div>
<div class="t ax" style="left:580px;top:828.2px;transform:scale(1.06,1.085);">18 Aug 08:00</div>
<div class="t ax" style="left:644px;top:828.2px;transform:scale(1.06,1.085);">19 Aug 00:00</div>
<div class="t ax" style="left:708px;top:828.2px;transform:scale(1.06,1.085);">19 Aug 16:00</div>
<div class="t ax" style="left:772px;top:828.2px;transform:scale(1.06,1.085);">22 Aug 08:00</div>
<div class="t ax" style="left:836px;top:828.2px;transform:scale(1.06,1.085);">23 Aug 00:00</div>
<div class="t ax" style="left:900px;top:828.2px;transform:scale(1.06,1.085);">23 Aug 16:00</div>
<div class="t ax" style="left:964px;top:828.2px;transform:scale(1.06,1.085);">24 Aug 08:00</div>
<div class="t ax" style="left:1028px;top:828.2px;transform:scale(1.06,1.085);">25 Aug 00:00</div>
<div class="t ax" style="left:1092px;top:828.2px;transform:scale(1.06,1.085);">25 Aug 16:00</div>
<div class="t ax" style="left:1156px;top:828.2px;transform:scale(1.06,1.085);">26 Aug 08:00</div>
<div class="t ax" style="left:1220px;top:828.2px;transform:scale(1.06,1.085);">29 Aug 00:00</div>
<div class="t ax" style="left:1284px;top:828.2px;transform:scale(1.06,1.085);">29 Aug 16:00</div>
</body></html>
